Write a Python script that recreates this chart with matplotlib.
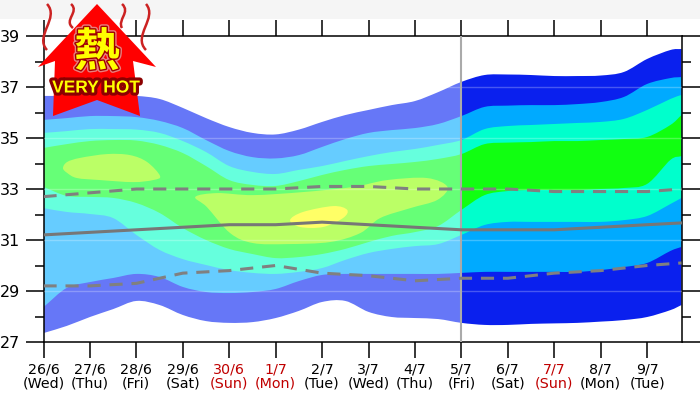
#!/usr/bin/env python3
"""Temperature forecast plume with a very-hot badge."""

import matplotlib
matplotlib.use("Agg")
import matplotlib.pyplot as plt
import matplotlib.patheffects as pe
import numpy as np
from matplotlib.patches import PathPatch, Polygon, Rectangle
from matplotlib.path import Path

W, H = 700, 393

dates = ["26/6", "27/6", "28/6", "29/6", "30/6", "1/7", "2/7", "3/7", "4/7", "5/7", "6/7", "7/7", "8/7", "9/7"]
weekdays = ["Wed", "Thu", "Fri", "Sat", "Sun", "Mon", "Tue", "Wed", "Thu", "Fri", "Sat", "Sun", "Mon", "Tue"]
red_days = ["30/6", "1/7", "7/7"]

# half-day steps, then the right edge of the frame
band_days = [0, .5, 1, 1.5, 2, 2.5, 3, 3.5, 4, 4.5, 5, 5.5, 6, 6.5, 7, 7.5, 8, 8.5, 9, 9.5,
             10, 10.5, 11, 11.5, 12, 12.5, 13, 13.5, 13.74]

outer_top = [36.65, 36.65, 36.65, 36.65, 36.65, 36.53, 36.18, 35.78, 35.43, 35.20, 35.14, 35.33, 35.63, 35.90, 36.10,
             36.29, 36.45, 36.80, 37.20, 37.47, 37.49, 37.47, 37.43, 37.43, 37.45, 37.59, 38.10, 38.45, 38.49]
light_top = [35.71, 35.78, 35.86, 35.86, 35.82, 35.67, 35.39, 34.92, 34.49, 34.25, 34.20, 34.33, 34.65, 34.96, 35.20,
             35.31, 35.39, 35.55, 35.86, 36.22, 36.27, 36.29, 36.29, 36.33, 36.41, 36.61, 37.12, 37.35, 37.39]
aqua_top = [35.20, 35.27, 35.35, 35.35, 35.33, 35.20, 34.88, 34.45, 33.90, 33.67, 33.59, 33.75, 33.90, 34.10, 34.29,
            34.45, 34.57, 34.73, 34.92, 35.35, 35.47, 35.51, 35.55, 35.59, 35.63, 35.75, 36.10, 36.53, 36.69]
green_top = [34.61, 34.76, 34.88, 34.92, 34.90, 34.73, 34.41, 33.90, 33.35, 33.16, 33.12, 33.31, 33.55, 33.75, 33.90,
             33.98, 34.06, 34.18, 34.37, 34.76, 34.82, 34.84, 34.88, 34.88, 34.92, 34.96, 35.04, 35.51, 35.90]
green_bot = [33.08, 32.73, 32.69, 32.65, 32.45, 32.06, 31.47, 31.00, 30.65, 30.45, 30.29, 30.33, 30.45, 30.65, 30.92,
             31.16, 31.31, 31.55, 32.18, 32.76, 32.92, 32.96, 32.96, 32.96, 33.00, 33.04, 33.20, 34.14, 34.29]
aqua_bot = [32.25, 32.10, 32.02, 31.86, 31.20, 30.61, 30.25, 30.02, 29.82, 29.71, 29.67, 29.75, 29.90, 30.22, 30.49,
            30.65, 30.76, 30.84, 31.20, 31.59, 31.71, 31.71, 31.71, 31.71, 31.71, 31.78, 31.94, 32.41, 32.65]
light_bot = [28.37, 29.12, 29.35, 29.51, 29.67, 29.55, 29.16, 28.96, 28.92, 28.96, 29.08, 29.39, 29.63, 29.67, 29.67,
             29.67, 29.67, 29.67, 29.71, 29.75, 29.75, 29.75, 29.75, 29.75, 29.82, 29.94, 30.10, 30.57, 30.73]
outer_bot = [27.35, 27.63, 27.98, 28.29, 28.61, 28.45, 28.06, 27.82, 27.75, 27.78, 27.94, 28.22, 28.57, 28.61, 28.18,
             27.98, 27.94, 27.90, 27.75, 27.67, 27.67, 27.71, 27.73, 27.75, 27.80, 27.86, 27.98, 28.25, 28.45]

lime_left_days = [.42, .51, .79, 1.37, 1.86, 2.23, 2.51, 2.36, 1.93, 1.22, .72, .51]
lime_left_vals = [33.82, 34.06, 34.22, 34.37, 34.33, 34.06, 33.51, 33.35, 33.27, 33.35, 33.43, 33.63]
lime_mid_days = [3.27, 3.74, 4.51, 5.59, 6.67, 7.40, 8.26, 8.70, 8.48, 7.90, 7.25, 6.82, 6.17, 5.25, 4.51, 4.02, 3.52]
lime_mid_vals = [32.69, 32.84, 32.76, 32.88, 33.08, 33.35, 33.43, 33.08, 32.57, 32.25, 31.86, 31.27, 30.92, 30.84,
                 30.88, 31.27, 32.29]
yellow_days = [5.31, 5.59, 6.24, 6.54, 6.45, 6.02, 5.53]
yellow_vals = [31.78, 32.10, 32.33, 32.18, 31.86, 31.51, 31.51]

line_days = [0, 1, 2, 3, 4, 5, 6, 7, 8, 9, 10, 11, 12, 13, 13.74]
mean_line = [31.2, 31.3, 31.4, 31.5, 31.6, 31.6, 31.7, 31.6, 31.5, 31.4, 31.4, 31.4, 31.5, 31.6, 31.67]
upper_line = [32.7, 32.85, 33.0, 33.0, 33.0, 33.0, 33.1, 33.1, 33.0, 33.0, 33.0, 32.9, 32.9, 32.9, 33.0]
lower_line = [29.2, 29.2, 29.3, 29.7, 29.8, 30.0, 29.7, 29.6, 29.4, 29.5, 29.5, 29.7, 29.8, 30.0, 30.1]


def curve(x, y, closed=False):
    pts = np.column_stack([x, y])
    if closed:
        pts = np.vstack([pts, pts[0]])
        slope = (np.roll(pts[:-1], -1, axis=0) - np.roll(pts[:-1], 1, axis=0)) / 2
        slope = np.vstack([slope, slope[0]])
    else:
        slope = np.gradient(pts, axis=0)
    verts = [pts[0]]
    for i in range(len(pts) - 1):
        verts += [pts[i] + slope[i] / 3, pts[i + 1] - slope[i + 1] / 3, pts[i + 1]]
    return np.array(verts)


def band_path(x, top, bottom):
    upper = curve(x, top)
    lower = curve(x, bottom)[::-1]
    verts = np.vstack([upper, lower, upper[0]])
    codes = [Path.MOVETO] + [Path.CURVE4] * (len(upper) - 1) + [Path.LINETO] + [Path.CURVE4] * (len(lower) - 1)
    return Path(verts, codes + [Path.CLOSEPOLY])


def blob(ax, x, y, color):
    verts = curve(x, y, closed=True)
    codes = [Path.MOVETO] + [Path.CURVE4] * (len(verts) - 1)
    ax.add_patch(PathPatch(Path(verts, codes), fc=color, ec="none", zorder=3))


def px(x, y):
    return x / W, 1 - y / H


def main():
    fig = plt.figure(figsize=(W / 100, H / 100), dpi=100)
    fig.patches.append(Rectangle((0, 1 - 19 / H), 1, 19 / H, transform=fig.transFigure, fc="#f5f5f5", ec="none"))

    ax = fig.add_axes([43.5 / W, 1 - 342 / H, 638 / W, 306 / H])
    ax.set_xlim(0, 13.74)
    ax.set_ylim(27, 39)

    bands = [
        (outer_top, outer_bot, "#6677f7", "#0a20ee"),
        (light_top, light_bot, "#66ccff", "#00aaff"),
        (aqua_top, aqua_bot, "#66ffdd", "#00ffcc"),
        (green_top, green_bot, "#66ff77", "#11ff11"),
    ]
    for top, bottom, early, late in bands:
        path = band_path(band_days, top, bottom)
        for start, width, color in [(0, 9, early), (9, 4.74, late)]:
            patch = PathPatch(path, fc=color, ec="none", zorder=2)
            ax.add_patch(patch)
            patch.set_clip_path(Rectangle((start, 27), width, 12, transform=ax.transData))

    blob(ax, lime_left_days, lime_left_vals, "#bbff66")
    blob(ax, lime_mid_days, lime_mid_vals, "#bbff66")
    blob(ax, yellow_days, yellow_vals, "#ffff66")

    for level in range(29, 39, 2):
        ax.axhline(level, color="white", alpha=0.25, lw=1, zorder=4)
    ax.axvline(9, color="#aaaaaa", lw=1.5, zorder=4)

    ax.plot(line_days, mean_line, color="#777777", lw=2.2, zorder=5)
    for series in (upper_line, lower_line):
        ax.plot(line_days, series, color="#808080", lw=2.2, dashes=(4.3, 2.9), zorder=5)

    ax.set_xticks(range(len(dates)))
    ax.set_xticklabels([f"{d}\n({w})" for d, w in zip(dates, weekdays)], fontsize=10.3, linespacing=1.0)
    for label, date in zip(ax.get_xticklabels(), dates):
        if date in red_days:
            label.set_color("#c00000")
    ax.set_yticks(range(27, 40, 2))
    ax.set_yticks(range(28, 40, 2), minor=True)
    ax.tick_params(axis="x", direction="out", top=True, length=11.5, width=1.1, pad=3)
    ax.tick_params(axis="y", which="major", direction="out", right=True, length=13, width=1.1, pad=4, labelsize=11.5)
    ax.tick_params(axis="y", which="minor", direction="out", right=True, length=6.5, width=1.1)
    for spine in ax.spines.values():
        spine.set_linewidth(1.1)

    # very hot badge sits over the axes
    arrow = [(97, 4), (156, 67), (133, 61), (140, 116), (97, 100), (53, 116), (55, 61), (38, 67)]
    fig.add_artist(Polygon([px(*p) for p in arrow], closed=True, transform=fig.transFigure, fc="#ff0000", ec="none",
                           zorder=10))
    waves = [
        ([47, 60, 34, 47], [4, 18, 36, 50]),
        ([71, 80, 63, 73], [4, 12, 20, 28]),
        ([122, 131, 117, 122], [4, 12, 20, 28]),
        ([146, 158, 132, 146], [4, 18, 36, 50]),
    ]
    for wx, wy in waves:
        verts = [px(a, b) for a, b in zip(wx, wy)]
        codes = [Path.MOVETO] + [Path.CURVE4] * 3
        fig.add_artist(PathPatch(Path(verts, codes), transform=fig.transFigure, fc="none", ec="#cc2222", lw=1.8,
                                 zorder=9))

    x, y = px(97, 53)
    fig.text(x, y, "熱", family=["Noto Sans CJK JP", "DejaVu Sans"], fontweight="bold", fontsize=33, color="#ffff00",
             ha="center", va="center", zorder=11,
             path_effects=[pe.withStroke(linewidth=4, foreground="#e88080"), pe.withStroke(linewidth=2, foreground="#a00000")])
    x, y = px(96, 88)
    fig.text(x, y, "VERY HOT", family="Liberation Sans", fontweight="bold", fontsize=12.5, color="#ffff00",
             ha="center", va="center", zorder=11,
             path_effects=[pe.withStroke(linewidth=4.5, foreground="#8b0000")])

    fig.savefig("out.png", dpi=100)
    plt.close(fig)


if __name__ == "__main__":
    main()
